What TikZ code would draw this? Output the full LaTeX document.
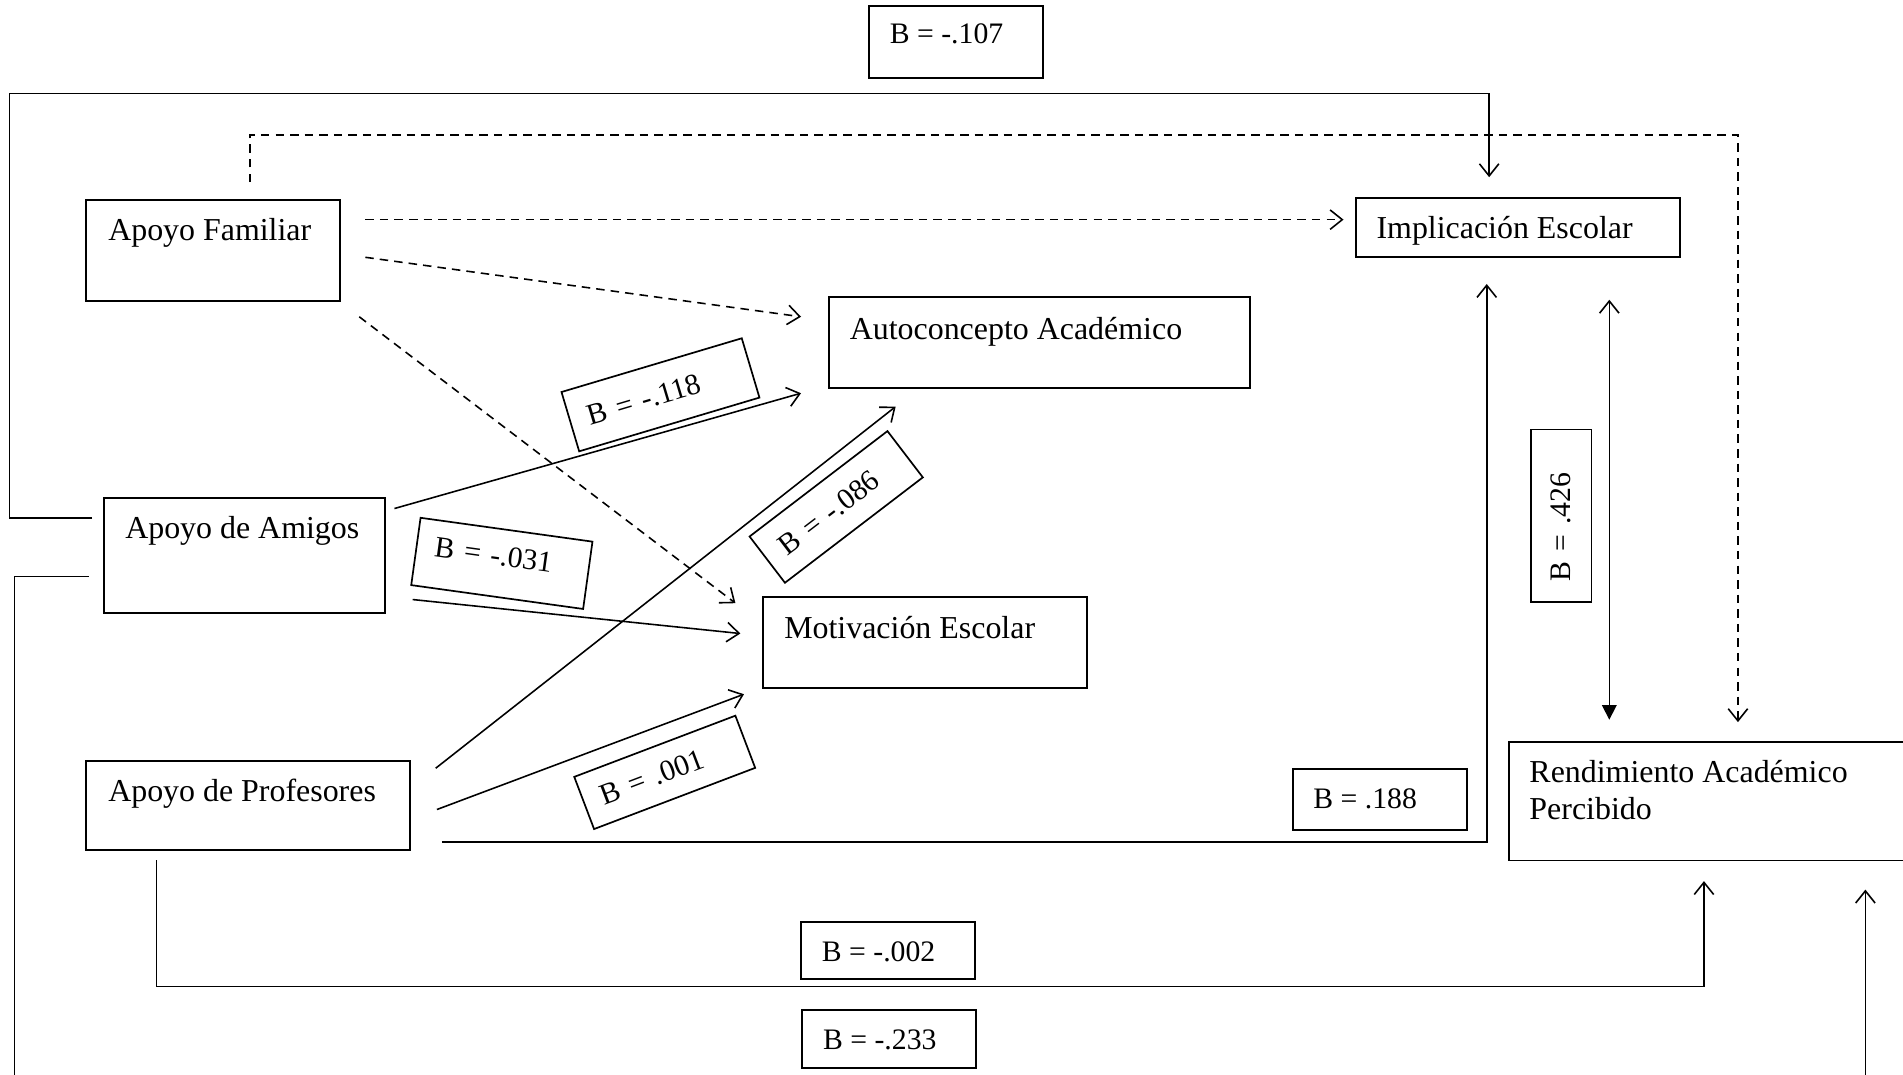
\documentclass[tikz,border=0pt]{standalone}
\usepackage{fontspec}
\setmainfont{Liberation Serif}
\usetikzlibrary{arrows.meta,calc}
\tikzset{
  box/.style={draw, line width=1.6pt, rectangle, inner sep=0pt, outer sep=0pt, anchor=north west},
  txt/.style={inner sep=0pt, anchor=base west, font=\fontsize{26.3}{30}\selectfont},
  ltxt/.style={inner sep=0pt, anchor=base west, font=\fontsize{24.5}{28}\selectfont},
  rlab/.style={draw, line width=1.4pt, inner xsep=15pt, inner ysep=0pt, align=left, font=\fontsize{24.5}{28}\selectfont},
  conn/.style={line width=1.3pt, -{Straight Barb[length=10pt,width=16pt]}},
  dconn/.style={conn, dash pattern=on 7pt off 5pt},
}
\begin{document}
\begin{tikzpicture}[x=1pt,y=-1pt]
\useasboundingbox (0,0) rectangle (1568,885);
\clip (0,0) rectangle (1568,885);
\fill[white] (0,0) rectangle (1568,885);

% main boxes
\node[box, minimum width=209pt, minimum height=83pt] (af) at (71,165) {};
\node[txt] (taf) at (89,198.5) {Apoyo Familiar};
\node[box, minimum width=267pt, minimum height=49pt] (ie) at (1117,163) {};
\node[txt] (tie) at (1134,196.5) {Implicación Escolar};
\node[box, minimum width=347pt, minimum height=75pt] (ac) at (683,245) {};
\node[txt] (tac) at (700,279.5) {Autoconcepto Académico};
\node[box, minimum width=231pt, minimum height=95pt] (am) at (86,410) {};
\node[txt] (tam) at (103,444) {Apoyo de Amigos};
\node[box, minimum width=267pt, minimum height=75pt] (me) at (629,492) {};
\node[txt] (tme) at (646,526.5) {Motivación Escolar};
\node[box, minimum width=267pt, minimum height=73pt] (ap) at (71,627) {};
\node[txt] (tap) at (89,660.5) {Apoyo de Profesores};
\node[box, minimum width=400pt, minimum height=98pt] (ra) at (1243,611) {};
\node[txt] (tra1) at (1260,645) {Rendimiento Académico};
\node[txt] (tra2) at (1260,675) {Percibido};

% horizontal label boxes
\node[box, minimum width=143pt, minimum height=59pt] (b107) at (716,5) {};
\node[ltxt] (t107) at (733,36) {B = -.107};
\node[box, minimum width=144pt, minimum height=50pt] (b188) at (1065,634) {};
\node[ltxt] (t188) at (1082,666) {B = .188};
\node[box, minimum width=143pt, minimum height=47pt] (b002) at (660,760) {};
\node[ltxt] (t002) at (677,792) {B = -.002};
\node[box, minimum width=143pt, minimum height=48pt] (b233) at (661,832) {};
\node[ltxt] (t233) at (678,865) {B = -.233};

% connectors
\draw[dconn] ($(af.north east)+(21,16)$) -- ($(ie.north west)+(-10,18)$);
\draw[dconn] ($(af.north east)+(21,47)$) -- ($(ac.north west)+(-23,16)$);
\draw[dconn] ($(af.south east)+(16,13)$) -- ($(me.north west)+(-23,5)$);
\draw[dconn] ($(af.north west)+(135,-15)$) |- ($(ra.north west)+(189,-500)$) -- ($(ra.north west)+(189,-16)$);

\draw[conn] ($(am.north west)+(-10,17)$) -- ++(-68,0) |- ($(ie.north west)+(110,-86)$) -- ($(ie.north west)+(110,-17)$);
\draw[conn] ($(am.north west)+(-13,65)$) -- ++(-61,0) |- ($(ra.south west)+(294,200)$) -- ($(ra.south west)+(294,24)$);
\draw[conn] ($(am.north east)+(8,9)$) -- ($(ac.south west)+(-23,4)$);
\draw[conn] ($(am.north east)+(23,84)$) -- ($(me.north west)+(-19,30)$);
\draw[conn] ($(ap.north east)+(21,6)$) -- ($(ac.south west)+(55,15)$);
\draw[conn] ($(ap.north east)+(22,40)$) -- ($(me.south west)+(-16,5)$);
\draw[conn] ($(ap.north east)+(26,67)$) -| ($(ie.south west)+(108,22)$);
\draw[conn] ($(ap.south west)+(58,9)$) |- ($(ra.south west)+(0,104)$) -| ($(ra.south west)+(161,17)$);
\draw[line width=1.3pt, {Straight Barb[length=10pt,width=16pt]}-{Triangle[length=12pt,width=12pt]}] ($(ie.south west)+(209,35)$) -- ($(ra.north west)+(83,-18)$);

% rotated label boxes
\node[rlab, rotate=16.6, text width=125pt, minimum height=51pt] (b118) at (544.2,325.3) {B = -.118};
\node[rlab, rotate=37.4, text width=113pt, minimum height=48pt] (b086) at (689,417.7) {B = -.086};
\node[rlab, rotate=-7.9, text width=113pt, minimum height=56pt, text depth=12pt] (b031) at (413.5,464.2) {B = -.031};
\node[rlab, rotate=20.8, text width=112pt, minimum height=46pt] (b001) at (547.7,636.4) {B = .001};
\node[rlab, rotate=90, inner xsep=17pt, text width=108pt, minimum height=50pt] (b426) at (1286.3,425) {B = .426};
\end{tikzpicture}
\end{document}
